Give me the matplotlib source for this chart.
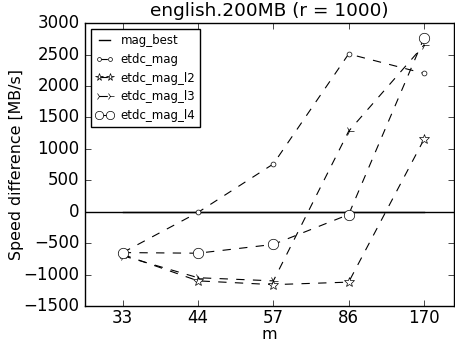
import numpy as np
import matplotlib
matplotlib.use("Agg")
import matplotlib.pyplot as plt

plt.style.use("classic")

m_labels = ["33", "44", "57", "86", "170"]
mag_best = [0, 0, 0, 0, 0]
etdc_mag = [-650, -10, 760, 2510, 2200]
etdc_mag_l2 = [-680, -1100, -1160, -1120, 1150]
etdc_mag_l3 = [-700, -1050, -1100, 1280, 2650]
etdc_mag_l4 = [-650, -660, -520, -45, 2760]

fig = plt.figure(figsize=(4.55, 3.45), dpi=100, facecolor="white")
ax = fig.add_axes([0.187, 0.113, 0.811, 0.820])
x = np.arange(len(m_labels))

ax.plot(x, mag_best, color="black", lw=1, label="mag_best")
ax.axhline(0, color="black", lw=1)
style = dict(color="black", ls="--", lw=0.8, markerfacecolor="white", markeredgecolor="black")
ax.plot(x, etdc_mag, marker="o", markersize=3.5, label="etdc_mag", **style)
ax.plot(x, etdc_mag_l2, marker="*", markersize=7, label="etdc_mag_l2", **style)
ax.plot(x, etdc_mag_l3, marker="4", markersize=7, label="etdc_mag_l3", **style)
ax.plot(x, etdc_mag_l4, marker="o", markersize=7.5, label="etdc_mag_l4", **style)

ax.set_xticks(x)
ax.set_xticklabels(m_labels)
ax.tick_params(labelsize=12)
ax.tick_params(axis="x", pad=2)
ax.set_xlim(-0.5, 4.4)
ax.set_ylim(-1500, 3000)
ax.set_xlabel("m", fontsize=11.4, labelpad=0)
ax.set_ylabel("Speed difference [MB/s]", fontsize=11.4, labelpad=0)
ax.set_title("english.200MB (r = 1000)", fontsize=13.3)
ax.legend(loc="upper left", fontsize=8.5, numpoints=2, markerscale=0.8,
          handlelength=1.5, handletextpad=0.6, labelspacing=0.5)

fig.savefig("out.png", dpi=100, facecolor="white")
